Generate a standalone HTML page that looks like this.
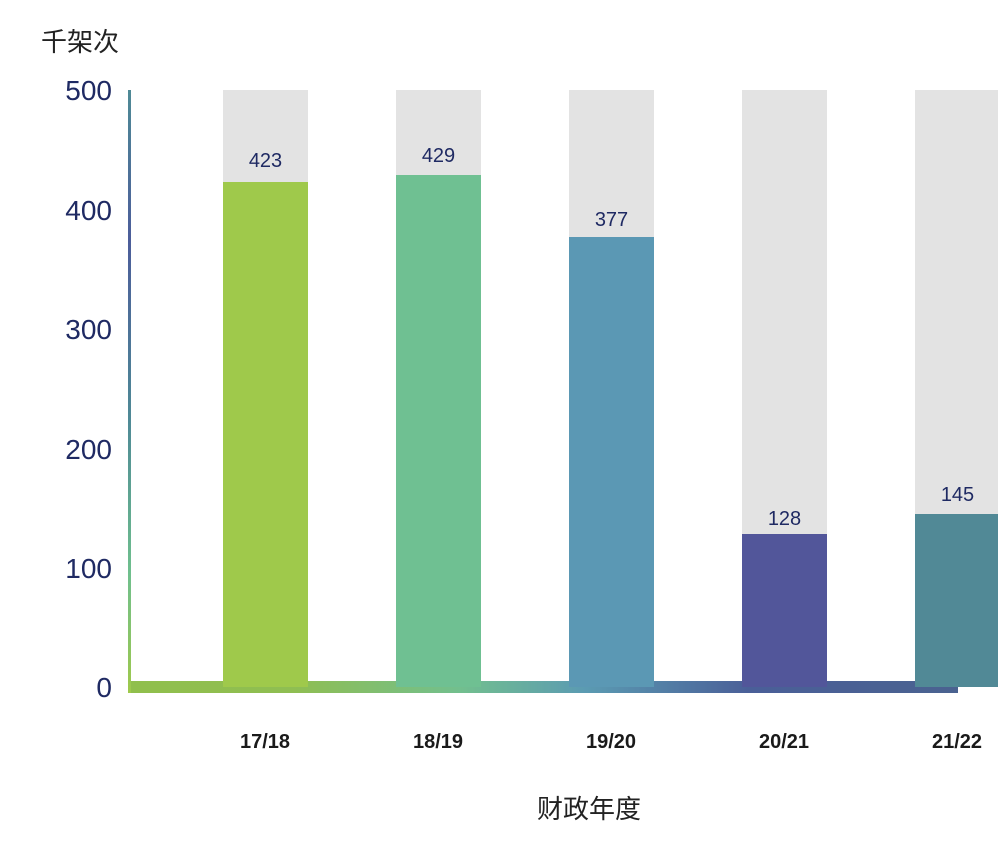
<!DOCTYPE html>
<html><head><meta charset="utf-8"><style>
body{margin:0;width:998px;height:850px;background:#fff;overflow:hidden;position:relative;font-family:"Liberation Sans","Noto Sans CJK SC",sans-serif}
.a{position:absolute}
.yl{position:absolute;right:886px;font-size:28px;color:#1f2a63;line-height:1}
.g{position:absolute;top:90px;width:85px;background:#e3e3e3}
.b{position:absolute;width:85px}
.v{position:absolute;width:85px;text-align:center;font-size:20px;color:#1f2a63}
.x{position:absolute;top:731px;width:120px;text-align:center;font-size:20px;font-weight:bold;color:#1a1a1a}
</style></head><body>
<div class="a" style="left:41px;top:22px;font-size:26px;color:#222">千架次</div>
<div class="yl" style="top:77px">500</div>
<div class="yl" style="top:197px">400</div>
<div class="yl" style="top:316px">300</div>
<div class="yl" style="top:436px">200</div>
<div class="yl" style="top:555px">100</div>
<div class="yl" style="top:674px">0</div>

<div class="g" style="left:223px;height:597px"></div>
<div class="g" style="left:396px;height:597px"></div>
<div class="g" style="left:569px;height:597px"></div>
<div class="g" style="left:742px;height:597px"></div>
<div class="g" style="left:915px;height:597px;width:83px"></div>

<div class="a" style="left:128px;top:681px;width:830px;height:12px;background:linear-gradient(to right,#90bf4c 0%,#8fbe52 20%,#72bf8e 40%,#5b9bb2 55%,#4a5f98 75%,#4a6290 100%)"></div>

<div class="b" style="left:223px;top:182px;height:505px;background:#9fc94b"></div>
<div class="b" style="left:396px;top:175px;height:512px;background:#6fc092"></div>
<div class="b" style="left:569px;top:237px;height:450px;background:#5b98b4"></div>
<div class="b" style="left:742px;top:534px;height:153px;background:#52569a"></div>
<div class="b" style="left:915px;top:514px;height:173px;width:83px;background:#518996"></div>

<div class="a" style="left:128px;top:90px;width:3px;height:603px;background:linear-gradient(to bottom,#4f8a96 0%,#4c5d9a 25%,#4f8a96 55%,#6fbf8e 80%,#9fc94b 100%)"></div>

<div class="v" style="left:223px;top:150px">423</div>
<div class="v" style="left:396px;top:145px">429</div>
<div class="v" style="left:569px;top:209px">377</div>
<div class="v" style="left:742px;top:508px">128</div>
<div class="v" style="left:915px;top:484px">145</div>

<div class="x" style="left:205px">17/18</div>
<div class="x" style="left:378px">18/19</div>
<div class="x" style="left:551px">19/20</div>
<div class="x" style="left:724px">20/21</div>
<div class="x" style="left:897px">21/22</div>

<div class="a" style="left:537px;top:789px;font-size:26px;color:#222">财政年度</div>
</body></html>
